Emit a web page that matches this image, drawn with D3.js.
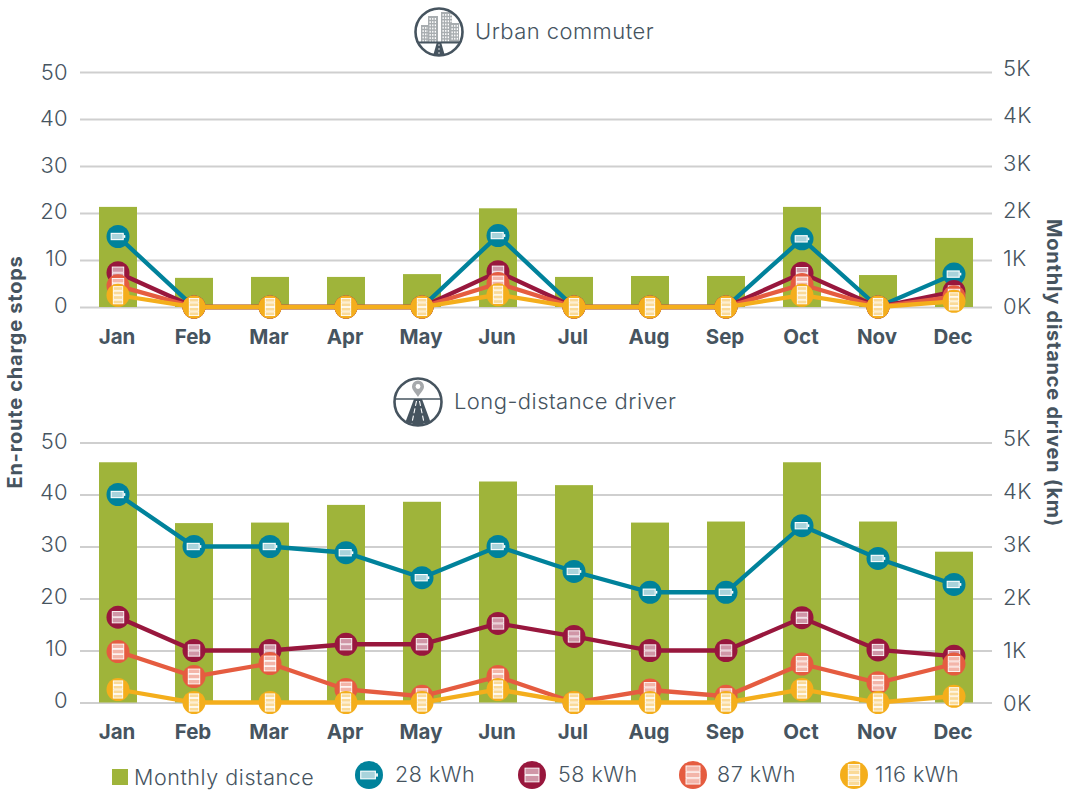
<!DOCTYPE html>
<html><head><meta charset="utf-8">
<script src="https://cdn.jsdelivr.net/npm/d3@7/dist/d3.min.js"></script>
<style>html,body{margin:0;padding:0;background:#fff}svg{display:block;font-family:Inter,Lato,sans-serif}</style>
</head><body><svg id="c" width="1065" height="792"></svg>
<script>
const months = ["Jan","Feb","Mar","Apr","May","Jun","Jul","Aug","Sep","Oct","Nov","Dec"];
const stopTicks = [0,10,20,30,40,50];
const kmTicks = [0,1000,2000,3000,4000,5000];
const urbanDistance = [2130,620,640,640,700,2100,640,660,660,2130,680,1470];
const urban28 = [15,0,0,0,0,15.2,0,0,0,14.5,0,7];
const urban58 = [7.3,0,0,0,0,7.5,0,0,0,7.2,0,3.3];
const urban87 = [4.5,0,0,0,0,5,0,0,0,4.8,0,2.2];
const urban116 = [2.5,0,0,0,0,2.6,0,0,0,2.5,0,1.2];
const longDistance = [4620,3450,3460,3800,3860,4250,4180,3460,3480,4620,3480,2900];
const long28 = [40,30,30,28.8,24,30,25.2,21.2,21.2,34,27.7,22.7];
const long58 = [16.4,10,10,11.2,11.2,15.2,12.7,10,10,16.3,10.1,8.9];
const long87 = [9.8,5,7.5,2.5,1.2,5,0,2.4,1.2,7.4,3.8,7.4];
const long116 = [2.5,0,0,0,0,2.5,0,0,0,2.5,0,1.2];
const seriesNames = ["28 kWh","58 kWh","87 kWh","116 kWh"];
const seriesColors = ["#00829b","#98173d","#e55c40","#f4ae1c"];
const seriesCells = [1,2,3,4];

const INK="#46545f", BAR="#9fb43a", GRID="#cfcfcf", FONT="Inter,Lato,sans-serif";
const svg=d3.select("#c");

function batteryIcon(g,cells,color,r){
  const k=r/11;
  if(cells===1){
    g.append("rect").attr("x",-6.5*k).attr("y",-3*k).attr("width",11.5*k).attr("height",6*k)
      .attr("fill","#a9d3db").attr("stroke","#fff").attr("stroke-width",1.1);
    g.append("rect").attr("x",5.6*k).attr("y",-1.3*k).attr("width",1.4*k).attr("height",2.6*k).attr("fill","#fff");
    return;
  }
  const h=(cells===2?5:cells===3?4.2:3.5)*k, gap=0.8*k, w=(cells===4?9:11)*k;
  const total=cells*h+(cells-1)*gap;
  d3.range(cells).forEach(i=>{
    g.append("rect").attr("x",-w/2).attr("y",-total/2+i*(h+gap)).attr("width",w).attr("height",h)
      .attr("fill","#fff").attr("fill-opacity",0.55).attr("stroke","#fff").attr("stroke-width",0.9);
  });
}
function marker(sel,cx,cy,i,r){
  const g=sel.append("g").attr("transform",`translate(${cx},${cy})`);
  g.append("circle").attr("r",r).attr("fill",seriesColors[i]);
  batteryIcon(g,seriesCells[i],seriesColors[i],r);
}

function panel(cfg){
  const x=d3.scaleBand().domain(months).range([80,992]);
  const y=d3.scaleLinear().domain([0,50]).range([cfg.bottom,cfg.top]);
  const yr=d3.scaleLinear().domain([0,5000]).range([cfg.bottom,cfg.top]);
  const leftShift=d3.scaleLinear().domain([0,50]).range(cfg.leftShift);
  const rightShift=d3.scaleLinear().domain([0,5000]).range(cfg.rightShift);
  const root=svg.append("g");
  const left=root.append("g").attr("transform","translate(80,0)")
    .call(d3.axisLeft(y).tickValues(stopTicks).tickSize(-912).tickPadding(12).tickFormat(d3.format("d")));
  left.attr("font-family",FONT);
  left.select(".domain").remove();
  left.selectAll("line").attr("stroke",GRID).attr("stroke-width",2);
  left.selectAll("text").attr("fill",INK).attr("font-size",22).attr("font-weight",300).attr("letter-spacing",0.3)
    .attr("y",d=>leftShift(d));
  const right=root.append("g").attr("transform","translate(992,0)")
    .call(d3.axisRight(yr).tickValues(kmTicks).tickSize(0).tickPadding(11).tickFormat(d=>(d/1000)+"K"));
  right.attr("font-family",FONT);
  right.select(".domain").remove();
  right.selectAll("text").attr("fill",INK).attr("font-size",22).attr("font-weight",300).attr("letter-spacing",0.3)
    .attr("y",d=>rightShift(d));
  const bottom=root.append("g").attr("transform",`translate(-1,${cfg.bottom})`)
    .call(d3.axisBottom(x).tickSize(0).tickPadding(22));
  bottom.attr("font-family",FONT);
  bottom.select(".domain").remove();
  bottom.selectAll("text").attr("fill",INK).attr("font-size",20.5).attr("font-weight",700);
  root.append("g").selectAll("rect").data(cfg.distance).join("rect")
    .attr("x",(d,i)=>x(months[i])+19).attr("width",38)
    .attr("y",d=>yr(d)).attr("height",d=>cfg.bottom-yr(d)).attr("fill",BAR);
  const line=d3.line().x((d,i)=>x(months[i])+38).y(d=>y(d));
  cfg.series.forEach((vals,s)=>{
    const g=root.append("g");
    g.append("path").attr("d",line(vals)).attr("fill","none").attr("stroke",seriesColors[s]).attr("stroke-width",4.3);
    vals.forEach((v,i)=>marker(g,x(months[i])+38,y(v),s,11.5));
  });
}
panel({top:72,bottom:307,leftShift:[-2,0],rightShift:[-1,-4],distance:urbanDistance,series:[urban28,urban58,urban87,urban116]});
panel({top:442.5,bottom:702.5,leftShift:[-2.5,-1.5],rightShift:[0.5,-4.5],distance:longDistance,series:[long28,long58,long87,long116]});

function title(cx,cy,tx,txt,draw){
  const g=svg.append("g").attr("transform",`translate(${cx},${cy})`);
  const id="clip"+cx;
  g.append("clipPath").attr("id",id).append("circle").attr("r",23);
  const inner=g.append("g").attr("clip-path",`url(#${id})`);
  draw(inner);
  g.append("circle").attr("r",23.5).attr("fill","none").attr("stroke",INK).attr("stroke-width",2.6);
  svg.append("text").attr("x",tx).attr("y",cy+7).attr("fill",INK).attr("font-size",22).attr("font-weight",300).attr("letter-spacing",0.45).text(txt);
}
title(439,32,475,"Urban commuter",g=>{
  [[-18,-7,8,17],[-11,-16,10,26],[2,-20,11,30],[11,-9,9,19]].forEach(b=>{
    g.append("rect").attr("x",b[0]).attr("y",b[1]).attr("width",b[2]).attr("height",b[3]).attr("fill","#a8adb0");
    for(let yy=b[1]+2;yy<b[1]+b[3]-1;yy+=3.2)for(let xx=b[0]+1.5;xx<b[0]+b[2]-1;xx+=2.6)
      g.append("rect").attr("x",xx).attr("y",yy).attr("width",1.3).attr("height",1.8).attr("fill","#fff");
  });
  g.append("line").attr("x1",-24).attr("x2",24).attr("y1",10.5).attr("y2",10.5).attr("stroke",INK).attr("stroke-width",2);
  g.append("path").attr("d","M-2,10 L2,10 L6,24 L-6,24Z").attr("fill",INK);
  g.append("line").attr("x1",0).attr("x2",0).attr("y1",12).attr("y2",23).attr("stroke","#fff").attr("stroke-width",0.8).attr("stroke-dasharray","2 2");
});
title(418,402,454,"Long-distance driver",g=>{
  g.append("line").attr("x1",-24).attr("x2",24).attr("y1",-3).attr("y2",-3).attr("stroke",INK).attr("stroke-width",1.6);
  g.append("path").attr("d","M-4,-3 L4,-3 L14,24 L-14,24Z").attr("fill",INK);
  [[-1.5,-6.5],[1.5,6.5]].forEach(p=>{
    g.append("line").attr("x1",p[0]).attr("x2",p[1]).attr("y1",-1).attr("y2",23).attr("stroke","#fff").attr("stroke-width",1.1).attr("stroke-dasharray","5 2.5");
  });
  g.append("path").attr("d","M0,-5 C-3,-10 -6,-12 -6,-15.5 A6,6 0 1 1 6,-15.5 C6,-12 3,-10 0,-5Z").attr("fill","#a6a9ac");
  g.append("circle").attr("cy",-15.5).attr("r",2.4).attr("fill","#fff");
});

svg.append("text").attr("transform","translate(22,372) rotate(-90)").attr("text-anchor","middle")
  .attr("fill",INK).attr("font-size",20).attr("font-weight",700).attr("letter-spacing",0.75).text("En-route charge stops");
svg.append("text").attr("transform","translate(1047,373) rotate(90)").attr("text-anchor","middle")
  .attr("fill",INK).attr("font-size",20).attr("font-weight",700).attr("letter-spacing",0.75).text("Monthly distance driven (km)");

svg.append("rect").attr("x",112).attr("y",769).attr("width",16).attr("height",16).attr("fill",BAR);
svg.append("text").attr("x",134).attr("y",785).attr("fill",INK).attr("font-size",21.5).attr("font-weight",300).attr("letter-spacing",0.55).text("Monthly distance");
const legendX=[369,532,693,854], legendT=[395,558,717,875];
seriesNames.forEach((n,i)=>{
  marker(svg,legendX[i],775,i,14);
  svg.append("text").attr("x",legendT[i]).attr("y",782).attr("fill",INK).attr("font-size",21.5).attr("font-weight",300).attr("letter-spacing",0.5).text(n);
});
</script></body></html>
